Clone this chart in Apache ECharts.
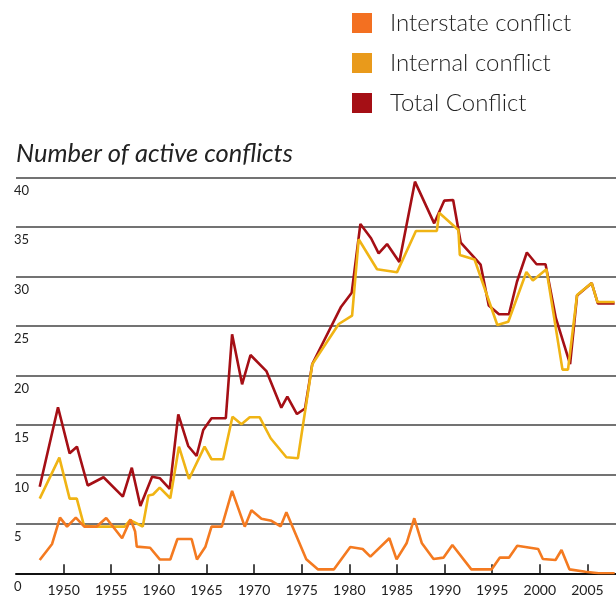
<!DOCTYPE html>
<html>
<head>
<meta charset="utf-8">
<script src="https://cdn.jsdelivr.net/npm/echarts@6/dist/echarts.min.js"></script>
<style>
html,body{margin:0;padding:0;background:#fff;}
#chart{width:616px;height:598px;}
</style>
</head>
<body>
<div id="chart"></div>
<script>
// Series names
var seriesNames = ['Interstate conflict', 'Internal conflict', 'Total Conflict'];

// Total conflict (x = year position, y = count)
var totalYears = [1947.49,1949.41,1950.63,1951.40,1952.53,1954.19,1956.22,1957.16,1958.06,1959.29,1960.12,1961.14,1962.04,1963.08,1963.96,1964.66,1965.53,1967.03,1967.69,1968.74,1969.62,1971.29,1972.86,1973.49,1974.50,1975.35,1976.11,1979.14,1980.25,1981.16,1982.28,1983.08,1983.96,1985.25,1986.89,1988.91,1989.96,1990.90,1991.70,1993.10,1993.78,1994.64,1995.71,1996.76,1997.60,1998.64,1999.66,2000.60,2001.68,2003.18,2003.91,2005.45,2006.10,2007.86];
var totalValues = [8.75,16.77,12.12,12.79,8.87,9.70,7.74,10.67,6.80,9.76,9.60,8.52,16.06,12.86,11.85,14.47,15.66,15.66,24.14,19.09,22.05,20.43,16.73,17.84,16.09,16.65,21.14,26.93,28.34,35.28,33.84,32.32,33.26,31.44,39.56,35.35,37.64,37.71,33.39,31.92,31.19,27.05,26.17,26.17,29.45,32.40,31.22,31.22,25.79,21.14,28.06,29.32,27.25,27.25];

// Internal conflict
var internalYears = [1947.49,1949.55,1950.63,1951.38,1952.14,1953.42,1956.41,1956.98,1958.31,1958.90,1959.39,1960.09,1961.20,1962.11,1963.16,1964.80,1965.53,1966.75,1967.73,1968.67,1969.54,1970.59,1971.74,1973.39,1974.60,1976.11,1978.89,1980.29,1980.98,1982.91,1985.00,1986.99,1989.19,1989.43,1991.45,1991.60,1993.15,1995.54,1996.69,1998.59,1999.27,2000.69,2002.38,2002.96,2003.91,2005.45,2006.05,2007.86];
var internalValues = [7.54,11.68,7.54,7.54,4.81,4.71,4.71,5.38,4.73,7.86,7.96,8.65,7.58,12.79,9.53,12.79,11.52,11.52,15.82,15.05,15.76,15.76,13.64,11.72,11.62,21.11,25.18,26.02,33.74,30.71,30.40,34.58,34.58,36.42,34.68,32.15,31.70,25.08,25.41,30.43,29.58,30.71,20.57,20.57,28.11,29.32,27.40,27.40];

// Interstate conflict
var interstateYears = [1947.49,1948.79,1949.62,1950.36,1951.28,1952.17,1953.45,1954.47,1956.14,1957.03,1957.51,1957.68,1959.08,1960.12,1961.20,1961.95,1963.44,1964.00,1964.89,1965.53,1966.61,1967.69,1969.02,1969.72,1970.77,1971.82,1972.79,1973.39,1975.48,1976.69,1978.39,1980.10,1981.40,1982.21,1984.20,1984.96,1986.01,1986.82,1987.62,1988.84,1989.88,1990.82,1992.81,1994.95,1995.79,1996.76,1997.63,1999.83,2000.32,2001.65,2002.28,2003.11,2004.79,2006.18,2007.86];
var interstateValues = [1.34,2.96,5.62,4.71,5.62,4.71,4.71,5.59,3.54,5.45,4.22,2.69,2.58,1.39,1.39,3.46,3.46,1.39,2.69,4.71,4.71,8.33,4.71,6.36,5.52,5.30,4.75,6.16,1.41,0.40,0.40,2.66,2.45,1.68,3.54,1.41,3.03,5.56,3.03,1.44,1.58,2.86,0.40,0.40,1.58,1.58,2.79,2.45,1.44,1.34,2.35,0.40,0.16,0,0];

// Axis ticks
var xTickYears = [1950,1955,1960,1965,1970,1975,1980,1985,1990,1995,2000,2005];
var yTicks = [0,5,10,15,20,25,30,35,40];

function zip(xs, ys){ return xs.map(function(x,i){ return [x, ys[i]]; }); }

var colors = { interstate: '#F47A20', internal: '#F0B414', total: '#A50F15' };
var legendColors = { interstate: '#F37021', internal: '#E99A1B', total: '#A50F15' };
var font = 'Lato, "Noto Sans", sans-serif';

var chart = echarts.init(document.getElementById('chart'), null, {renderer:'canvas'});
chart.setOption({
  animation: false,
  backgroundColor: '#fff',
  title: {
    text: 'Number of active conflicts',
    left: 16, top: 141, padding: 0,
    textStyle: { fontFamily: font, fontStyle: 'italic', fontWeight: 'normal', fontSize: 25.5, color: '#222' }
  },
  legend: {
    orient: 'vertical',
    left: 352, top: 11, padding: 0,
    itemWidth: 20, itemHeight: 20, itemGap: 16,
    icon: 'rect',
    data: [
      {name: seriesNames[0], itemStyle: {color: legendColors.interstate}},
      {name: seriesNames[1], itemStyle: {color: legendColors.internal}},
      {name: seriesNames[2], itemStyle: {color: legendColors.total}}
    ],
    textStyle: { fontFamily: font, fontSize: 24, fontWeight: 300, lineHeight: 20, color: '#222', padding: [0,0,0,13] }
  },
  grid: { left: 16, top: 177.3, width: 602, height: 396, containLabel: false },
  xAxis: {
    type: 'value', min: 1945, max: 2008, interval: 5,
    axisLine: { show: true, lineStyle: { color: '#111', width: 2 } },
    axisTick: { show: true, inside: true, length: 9, customValues: xTickYears, lineStyle: { color: '#111', width: 1.5 } },
    axisLabel: { customValues: xTickYears, margin: 10, fontFamily: font, fontSize: 14, color: '#222', formatter: function(v){ return String(v); } },
    splitLine: { show: false }
  },
  yAxis: {
    type: 'value', min: 0, max: 40, interval: 5,
    axisLine: { show: false },
    axisTick: { show: false },
    axisLabel: { inside: true, margin: -2, align: 'left', verticalAlign: 'top', padding: [7,0,0,0], fontFamily: font, fontSize: 13, color: '#222',
      formatter: function(v){ return yTicks.indexOf(v) >= 0 ? String(v) : ''; } },
    splitLine: { show: true, lineStyle: { color: '#444', width: 1.5 } }
  },
  series: [
    { name: seriesNames[2], type: 'line', data: zip(totalYears, totalValues), showSymbol: false, symbol: 'none',
      lineStyle: { color: colors.total, width: 2.6 }, itemStyle: { color: legendColors.total }, z: 2 },
    { name: seriesNames[1], type: 'line', data: zip(internalYears, internalValues), showSymbol: false, symbol: 'none',
      lineStyle: { color: colors.internal, width: 2.6 }, itemStyle: { color: legendColors.internal }, z: 3 },
    { name: seriesNames[0], type: 'line', data: zip(interstateYears, interstateValues), showSymbol: false, symbol: 'none',
      lineStyle: { color: colors.interstate, width: 2.6 }, itemStyle: { color: legendColors.interstate }, z: 4 }
  ]
});
</script>
</body>
</html>
